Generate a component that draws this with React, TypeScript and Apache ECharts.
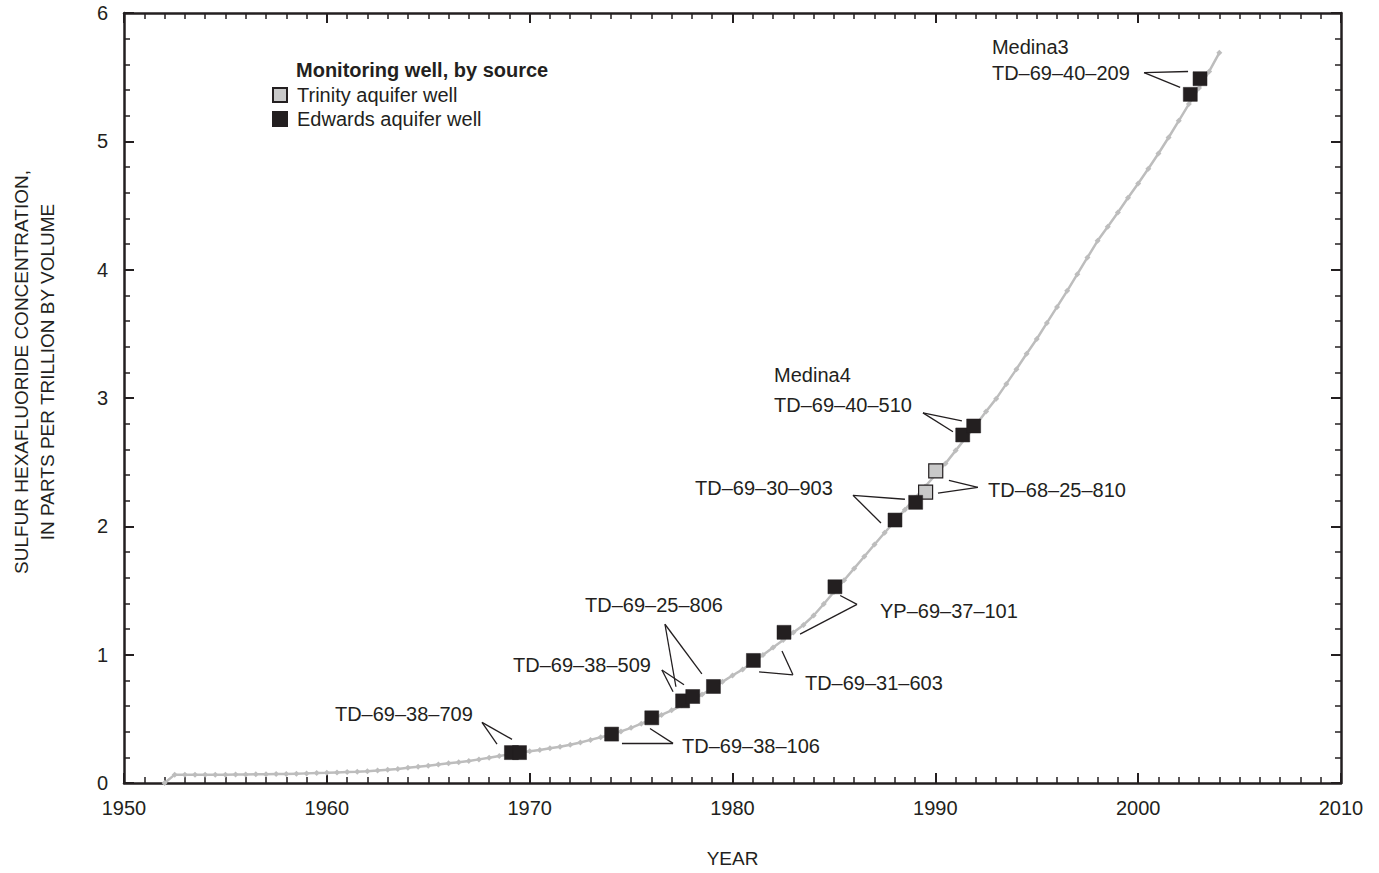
import React, { useEffect, useRef } from "react";
import * as echarts from "echarts";

// ---- Data ----
// Atmospheric SF6 curve, semiannual from 1952.0 to 2004.0 (pptv)
const curveStartYear = 1952;
const curveStepYears = 0.5;
const curveValues = [
  0, 0.065, 0.065, 0.065, 0.065, 0.065, 0.065, 0.066, 0.067, 0.068,
  0.069, 0.07, 0.071, 0.073, 0.075, 0.077, 0.079, 0.082, 0.085, 0.088,
  0.092, 0.097, 0.103, 0.11, 0.118, 0.126, 0.135, 0.145, 0.153, 0.162,
  0.172, 0.184, 0.197, 0.21, 0.223, 0.236, 0.248, 0.258, 0.27, 0.283,
  0.298, 0.316, 0.336, 0.356, 0.376, 0.402, 0.43, 0.462, 0.496, 0.53,
  0.566, 0.605, 0.645, 0.69, 0.738, 0.788, 0.838, 0.885, 0.94, 0.998,
  1.056, 1.115, 1.172, 1.232, 1.305, 1.395, 1.488, 1.58, 1.672, 1.765,
  1.858, 1.95, 2.04, 2.13, 2.22, 2.31, 2.4, 2.49, 2.59, 2.69,
  2.79, 2.895, 2.995, 3.11, 3.225, 3.345, 3.46, 3.585, 3.71, 3.835,
  3.965, 4.095, 4.225, 4.335, 4.445, 4.56, 4.672, 4.786, 4.905, 5.03,
  5.16, 5.29, 5.415, 5.545, 5.69,
];

// Trinity aquifer wells
const trinityYears = [1989.52, 1990.02];
const trinityValues = [2.267, 2.432];

// Edwards aquifer wells
const edwardsYears = [
  1969.1, 1969.5, 1974.04, 1976.02, 1977.54, 1978.04, 1979.06, 1981.03,
  1982.54, 1985.05, 1988.01, 1989.03, 1991.35, 1991.89, 2002.57, 2003.05,
];
const edwardsValues = [
  0.237, 0.237, 0.381, 0.508, 0.64, 0.674, 0.752, 0.955,
  1.174, 1.529, 2.049, 2.187, 2.712, 2.782, 5.366, 5.488,
];

// Axis ticks
const xTicks = [1950, 1960, 1970, 1980, 1990, 2000, 2010];
const yTicks = [0, 1, 2, 3, 4, 5, 6];

// Well-label annotations (anchored in data units: year, pptv)
const labelTexts = [
  "TD–69–38–709", "TD–69–38–106", "TD–69–38–509", "TD–69–25–806",
  "TD–69–31–603", "YP–69–37–101", "TD–69–30–903", "TD–68–25–810",
  "Medina4", "TD–69–40–510", "Medina3", "TD–69–40–209",
];
const labelYears = [
  1960.4, 1977.51, 1969.18, 1972.73, 1983.57, 1987.27, 1978.15, 1992.6,
  1982.05, 1982.05, 1992.79, 1992.79,
];
const labelValues = [
  0.534, 0.286, 0.92, 1.384, 0.781, 1.338, 2.296, 2.281,
  3.178, 2.946, 5.737, 5.536,
];

// Leader lines: [startYear, startValue, endYear, endValue]
const leaderLines = [
  [1967.65, 0.472, 1968.39, 0.302],
  [1967.65, 0.472, 1969.13, 0.34],
  [1977.07, 0.309, 1974.55, 0.309],
  [1977.07, 0.309, 1975.93, 0.425],
  [1976.52, 0.881, 1977.07, 0.711],
  [1976.52, 0.881, 1977.61, 0.765],
  [1976.67, 1.237, 1977.21, 0.75],
  [1976.67, 1.237, 1978.49, 0.851],
  [1982.98, 0.843, 1981.31, 0.866],
  [1982.98, 0.843, 1982.44, 1.028],
  [1986.14, 1.392, 1983.33, 1.16],
  [1986.14, 1.392, 1985.31, 1.461],
  [1985.94, 2.242, 1988.5, 2.211],
  [1985.94, 2.242, 1987.32, 2.026],
  [1992.1, 2.304, 1990.67, 2.358],
  [1992.1, 2.304, 1990.13, 2.258],
  [1989.39, 2.884, 1991.31, 2.822],
  [1989.39, 2.884, 1990.87, 2.737],
  [2000.29, 5.536, 2002.46, 5.544],
  [2000.29, 5.536, 2002.07, 5.42],
];

const INK = "#231f20";
const CURVE = "#bdbdbd";
const TRINITY_FILL = "#c9c9c9";
const FONT = "'Liberation Sans', Arial, Helvetica, sans-serif";

export default function App() {
  const ref = useRef<HTMLDivElement>(null);

  useEffect(() => {
    if (!ref.current) return;
    const chart = echarts.init(ref.current, undefined, { renderer: "svg" });

    const curveData = curveValues.map((v, i) => [curveStartYear + i * curveStepYears, v]);
    const trinityData = trinityYears.map((y, i) => [y, trinityValues[i]]);
    const edwardsData = edwardsYears.map((y, i) => [y, edwardsValues[i]]);
    const labelData = labelTexts.map((t, i) => [labelYears[i], labelValues[i], t]);

    const baseX = {
      type: "value",
      min: xTicks[0],
      max: xTicks[xTicks.length - 1],
      interval: xTicks[1] - xTicks[0],
      splitLine: { show: false },
      axisLine: { show: true, onZero: false, lineStyle: { color: INK, width: 2.5 } },
      axisTick: { show: true, inside: true, length: 10, lineStyle: { color: INK, width: 2 } },
      minorTick: { show: true, splitNumber: 10, length: 6, lineStyle: { color: INK, width: 1.5 } },
    };
    const baseY = {
      type: "value",
      min: yTicks[0],
      max: yTicks[yTicks.length - 1],
      interval: yTicks[1] - yTicks[0],
      splitLine: { show: false },
      axisLine: { show: true, onZero: false, lineStyle: { color: INK, width: 2.5 } },
      axisTick: { show: true, inside: true, length: 10, lineStyle: { color: INK, width: 2 } },
      minorTick: { show: true, splitNumber: 5, length: 6, lineStyle: { color: INK, width: 1.5 } },
    };

    const option: any = {
      animation: false,
      backgroundColor: "#ffffff",
      textStyle: { fontFamily: FONT, color: INK },
      grid: { left: 124, width: 1217, top: 13, height: 776, containLabel: false },
      xAxis: [
        {
          ...baseX,
          position: "bottom",
          name: "YEAR",
          nameLocation: "middle",
          nameGap: 66,
          nameTextStyle: { fontSize: 19, color: INK, fontFamily: FONT },
          axisLabel: {
            show: true,
            fontSize: 20,
            color: INK,
            margin: 15,
            fontFamily: FONT,
            formatter: (v: number) => String(v),
          },
        },
        { ...baseX, position: "top", axisLabel: { show: false } },
      ],
      yAxis: [
        {
          ...baseY,
          position: "left",
          axisLabel: {
            show: true,
            fontSize: 20,
            color: INK,
            margin: 16,
            fontFamily: FONT,
            formatter: (v: number) => String(v),
          },
        },
        { ...baseY, position: "right", axisLabel: { show: false } },
      ],
      legend: {
        data: ["Trinity aquifer well", "Edwards aquifer well"],
        orient: "vertical",
        left: 272,
        top: 85,
        padding: 0,
        itemWidth: 14,
        itemHeight: 14,
        itemGap: 4,
        icon: "rect",
        selectedMode: false,
        textStyle: { fontSize: 20, color: INK, fontFamily: FONT, padding: [0, 0, 0, 5] },
      },
      graphic: [
        {
          type: "text",
          left: 296,
          top: 60,
          style: {
            text: "Monitoring well, by source",
            font: `bold 20px ${FONT}`,
            fill: INK,
          },
        },
        {
          type: "text",
          x: 34,
          y: 372,
          rotation: Math.PI / 2,
          style: {
            text: "SULFUR HEXAFLUORIDE CONCENTRATION,\nIN PARTS PER TRILLION BY VOLUME",
            font: `19px ${FONT}`,
            lineHeight: 26,
            fill: INK,
            textAlign: "center",
            textVerticalAlign: "middle",
          },
        },
      ],
      series: [
        {
          name: "SF6 curve",
          type: "line",
          data: curveData,
          xAxisIndex: 0,
          yAxisIndex: 0,
          symbol: "diamond",
          symbolSize: 6,
          showSymbol: true,
          lineStyle: { color: CURVE, width: 2.5 },
          itemStyle: { color: CURVE, opacity: 1 },
          silent: true,
          z: 2,
        },
        {
          name: "Annotations",
          type: "scatter",
          data: labelData,
          symbolSize: 0,
          silent: true,
          z: 3,
          itemStyle: { opacity: 1 },
          label: {
            show: true,
            position: "right",
            distance: 0,
            formatter: (p: any) => p.data[2],
            fontSize: 20,
            color: INK,
            opacity: 1,
            fontFamily: FONT,
          },
          markLine: {
            silent: true,
            symbol: ["none", "none"],
            animation: false,
            label: { show: false },
            lineStyle: { color: INK, width: 1.3, type: "solid", opacity: 1 },
            data: leaderLines.map((l) => [
              { coord: [l[0], l[1]] },
              { coord: [l[2], l[3]] },
            ]),
          },
        },
        {
          name: "Trinity aquifer well",
          type: "scatter",
          data: trinityData,
          symbol: "rect",
          symbolSize: 14,
          itemStyle: { color: TRINITY_FILL, borderColor: INK, borderWidth: 1.2, opacity: 1 },
          z: 4,
        },
        {
          name: "Edwards aquifer well",
          type: "scatter",
          data: edwardsData,
          symbol: "rect",
          symbolSize: 14,
          itemStyle: { color: INK, borderColor: INK, borderWidth: 0.5, opacity: 1 },
          z: 5,
        },
      ],
    };

    chart.setOption(option);
    return () => chart.dispose();
  }, []);

  return (
    <div
      ref={ref}
      style={{ position: "fixed", left: 0, top: 0, width: 1379, height: 873, background: "#fff" }}
    />
  );
}
